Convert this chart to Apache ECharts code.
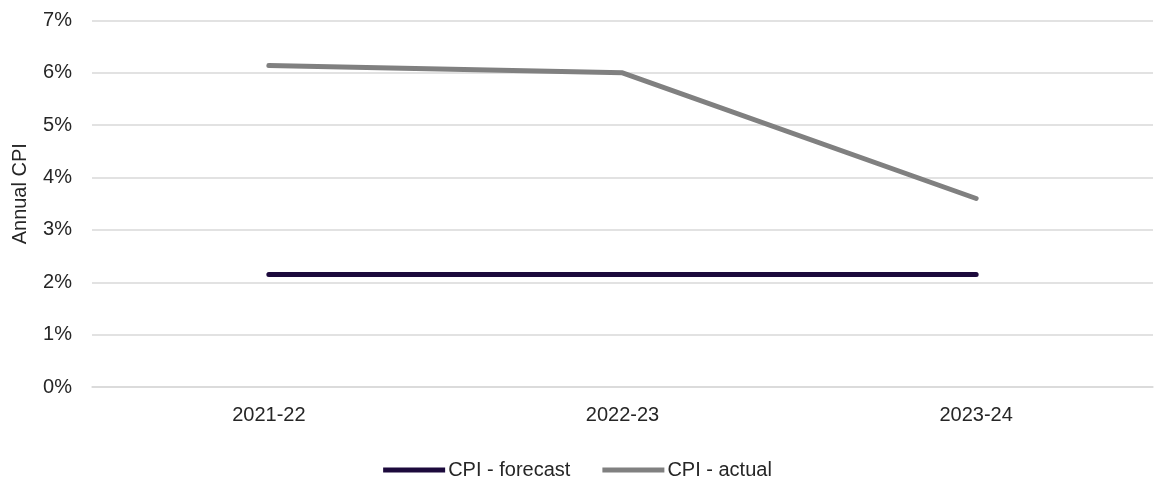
<!DOCTYPE html>
<html>
<head>
<meta charset="utf-8">
<script src="https://cdn.jsdelivr.net/npm/echarts@6/dist/echarts.min.js"></script>
<style>
html,body{margin:0;padding:0;background:#fff;}
#chart{width:1155px;height:480px;}
</style>
</head>
<body>
<div id="chart"></div>
<script>
const categories = ['2021-22', '2022-23', '2023-24'];
const cpiForecast = [2.15, 2.15, 2.15];
const cpiActual = [6.14, 6.0, 3.6];
const yTicks = { min: 0, max: 7, interval: 1 };

const FONT = '"Liberation Sans", Arial, sans-serif';
const chart = echarts.init(document.getElementById('chart'));
chart.setOption({
  animation: false,
  backgroundColor: '#ffffff',
  grid: { left: 92, right: 2, top: 20.5, bottom: 93, containLabel: false, outerBoundsMode: 'none' },
  xAxis: {
    type: 'category',
    data: categories,
    boundaryGap: true,
    axisLine: { show: true, lineStyle: { color: '#d9d9d9', width: 1.5 } },
    axisTick: { show: false },
    axisLabel: { color: '#262626', fontFamily: FONT, fontSize: 20, margin: 18 }
  },
  yAxis: {
    type: 'value',
    min: yTicks.min, max: yTicks.max, interval: yTicks.interval,
    name: 'Annual CPI',
    nameLocation: 'middle',
    nameGap: 62,
    nameRotate: 90,
    nameTextStyle: { color: '#262626', fontFamily: FONT, fontSize: 20, padding: [0, 0, 0, 20] },
    axisLine: { show: false },
    axisTick: { show: false },
    axisLabel: { color: '#262626', fontFamily: FONT, fontSize: 20, margin: 20, formatter: '{value}%' },
    splitLine: { lineStyle: { color: '#d9d9d9', width: 1.5 } }
  },
  legend: {
    top: 455,
    left: 'center',
    itemWidth: 62,
    itemHeight: 5,
    itemGap: 32,
    icon: 'rect',
    textStyle: { color: '#262626', fontFamily: FONT, fontSize: 20, padding: [0, 0, 0, -2] },
    data: ['CPI - forecast', 'CPI - actual']
  },
  series: [
    {
      name: 'CPI - forecast', type: 'line', data: cpiForecast,
      symbol: 'none',
      lineStyle: { color: '#1c0a3c', width: 5, cap: 'round' },
      itemStyle: { color: '#1c0a3c' }
    },
    {
      name: 'CPI - actual', type: 'line', data: cpiActual,
      symbol: 'none',
      lineStyle: { color: '#808080', width: 5, cap: 'round', join: 'round' },
      itemStyle: { color: '#808080' }
    }
  ]
});
</script>
</body>
</html>
